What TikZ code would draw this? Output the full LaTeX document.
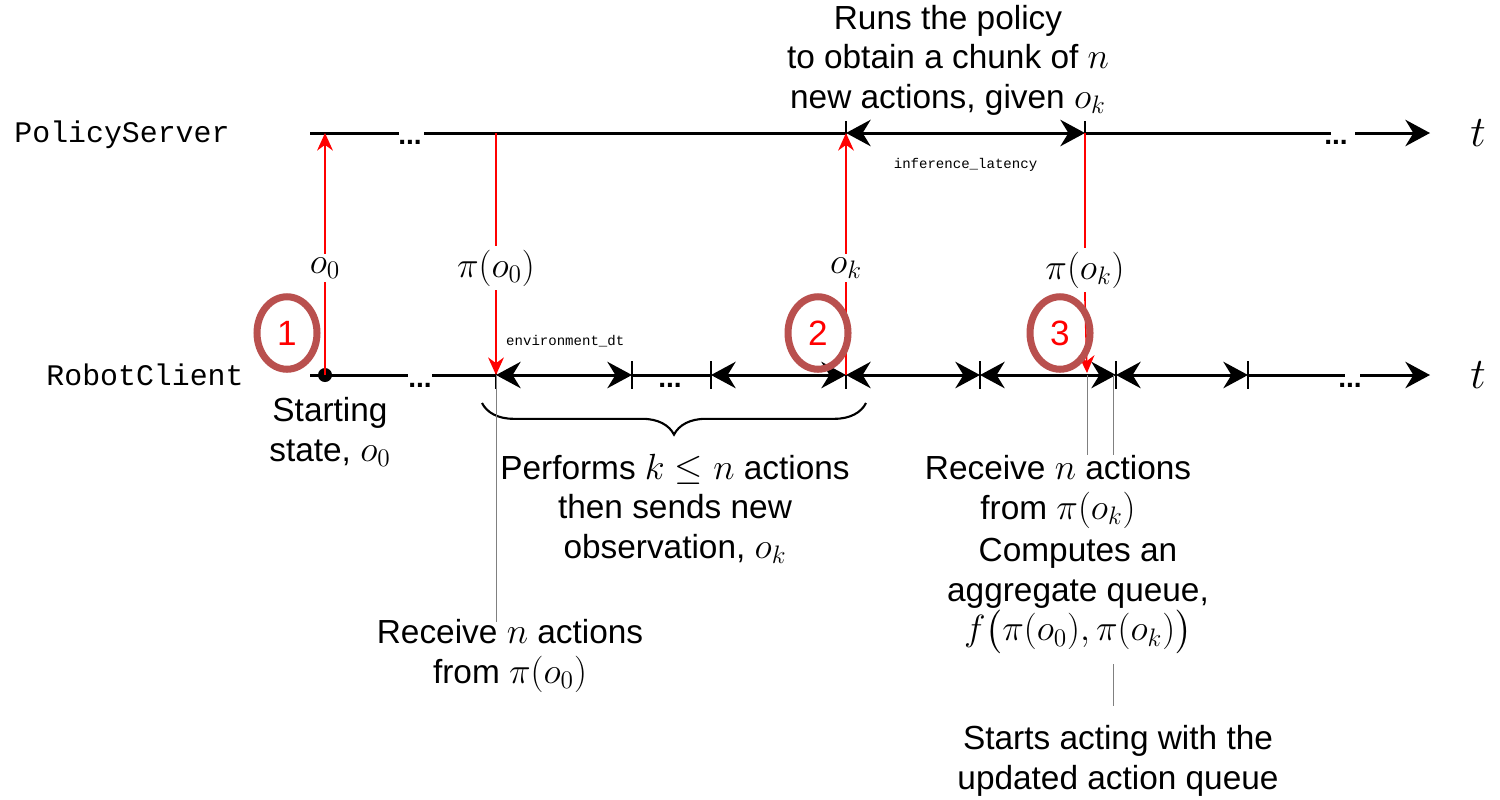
\documentclass[tikz,border=0pt]{standalone}
\usepackage{fontspec}
\setmainfont{Liberation Sans}
\setmonofont{Liberation Mono}
\usepackage{amsmath}
\usetikzlibrary{arrows.meta,decorations.pathreplacing,calc,shapes.geometric}
\newcommand{\Mth}[1]{{\fontsize{21.5}{22}\selectfont$#1$}}
\begin{document}
\begin{tikzpicture}[x=0.02cm,y=-0.02cm,
  axis/.style={line width=1.7pt},
  seg/.style={line width=1.7pt,{Stealth[length=14pt,width=15pt]}-{Stealth[length=14pt,width=15pt]}},
  tipar/.style={line width=1.7pt,-{Stealth[length=14pt,width=15pt]}},
  tick/.style={line width=1.2pt},
  msg/.style={red,line width=0.9pt,-{Stealth[length=10pt,width=9pt]}},
  lbl/.style={font=\fontsize{22}{25}\selectfont,align=center,fill=white,inner sep=2pt},
  txt/.style={font=\fontsize{19}{22.5}\selectfont,align=center,inner sep=0pt},
  mono/.style={font=\ttfamily\fontsize{17}{18}\selectfont},
  smallmono/.style={font=\ttfamily\fontsize{8}{10}\selectfont},
  dots/.style={font=\fontsize{16}{18}\selectfont\bfseries,inner sep=0pt},
  num/.style={ellipse,draw={rgb,255:red,185;green,80;blue,78},line width=4pt,minimum width=1.2cm,minimum height=1.45cm,inner sep=0pt,text=red,font=\fontsize{20}{23}\selectfont},
  guide/.style={gray,line width=0.4pt}]
\useasboundingbox (0,0) rectangle (1500,799);
% axis labels
\node[mono] (ps) at (122,135) {PolicyServer};
\node[mono] (rc) at (145,375) {RobotClient};
\node[font=\fontsize{28}{30}\selectfont] (t1) at (1478,133) {$t$};
\node[font=\fontsize{28}{30}\selectfont] (t2) at (1478,375) {$t$};
% coordinates
\foreach \x/\n in {310/a0,399/a1,424/a2,846/A,1085/B,1331/a3,1355/a4,1430/a5}
  \coordinate (P\n) at (\x,133);
\foreach \x/\n in {310/b0,408/b1,432/b2,496/R0,632/R1,711/R2,846/R3,980/R4,1116/R5,1248/R6,1345/b3,1360/b4,1430/b5}
  \coordinate (Q\n) at (\x,375);
% top axis
\draw[axis] (Pa0) -- (Pa1);
\node[dots] (pd1) at (410,142) {...};
\draw[axis] (Pa2) -- (PA);
\draw[seg] (PA) -- (PB) node[midway,below=10pt,smallmono] (il) {inference\_latency};
\draw[axis] (PB) -- (Pa3);
\node[dots] (pd2) at (1336,142) {...};
\draw[tipar] (Pa4) -- (Pa5);
\foreach \n in {A,B} \draw[tick] ($(P\n)+(0,-12)$) -- ($(P\n)+(0,12)$);
% bottom axis
\draw[axis] (Qb0) -- (Qb1);
\node[dots] (qd1) at (420,385) {...};
\draw[axis] (Qb2) -- (QR0);
\draw[seg] (QR0) -- (QR1);
\draw[axis] (QR1) -- (QR2);
\node[dots] (qd2) at (670,385) {...};
\draw[seg] (QR2) -- (QR3);
\draw[seg] (QR3) -- (QR4);
\draw[seg] (QR4) -- (QR5);
\draw[seg] (QR5) -- (QR6);
\draw[axis] (QR6) -- (Qb3);
\node[dots] (qd3) at (1350,385) {...};
\draw[tipar] (Qb4) -- (Qb5);
\foreach \n in {R0,R1,R2,R3,R4,R5,R6} \draw[tick] ($(Q\n)+(0,-14)$) -- ($(Q\n)+(0,14)$);
\fill (325,375) circle (7);
\node[smallmono,anchor=west] (env) at (500,341) {environment\_dt};
% messages
\coordinate (o0b) at (325,375); \coordinate (o0t) at (325,133);
\coordinate (p0t) at (496,133);
\coordinate (pkb) at (1087,373);
\draw[msg] (o0b) -- (o0t);
\node[lbl] (lo0) at (325,268) {$o_0$};
\draw[msg] (p0t) -- (QR0);
\node[lbl] (lp0) at (496,268) {$\pi(o_0)$};
\draw[msg] (QR3) -- (PA);
\node[lbl] (lok) at (846,268) {$o_k$};
\draw[msg] (PB) -- (1085,300) -- (pkb);
\node[lbl] (lpk) at (1085,270) {$\pi(o_k)$};
% numbered circles
\node[num,fill=white] (n1) at (287,333) {1};
\node[num] (n2) at (818,333) {2};
\node[num] (n3) at (1060,333) {3};
% brace
\draw[line width=1.2pt,decorate,decoration={brace,mirror,amplitude=18pt}] (482,403) -- (866,403);
% guides
\draw[guide] (QR0) -- (496,622);
\draw[guide] (1087,375) -- (1087,455);
\draw[guide] (1113,375) -- (1113,455);
\draw[guide] (1113,664) -- (1113,706);
% texts
\node[txt] (top) at (948,60) {Runs the policy\\ to obtain a chunk of \Mth{n}\\ new actions, given \Mth{o_k}};
\node[txt] (start) at (330,432) {Starting\\ state, \Mth{o_0}};
\node[txt] (perf) at (675,509) {Performs \Mth{k \leq n} actions\\ then sends new\\ observation, \Mth{o_k}};
\node[txt] (rk) at (1058,492) {Receive \Mth{n} actions\\ from \Mth{\pi(o_k)}};
\node[txt] (comp) at (1078,596) {Computes an\\ aggregate queue,\\ \Mth{f\bigl(\pi(o_0),\pi(o_k)\bigr)}};
\node[txt] (starts) at (1118,761) {Starts acting with the\\ updated action queue};
\node[txt] (r0) at (510,656) {Receive \Mth{n} actions\\ from \Mth{\pi(o_0)}};
\end{tikzpicture}
\end{document}
